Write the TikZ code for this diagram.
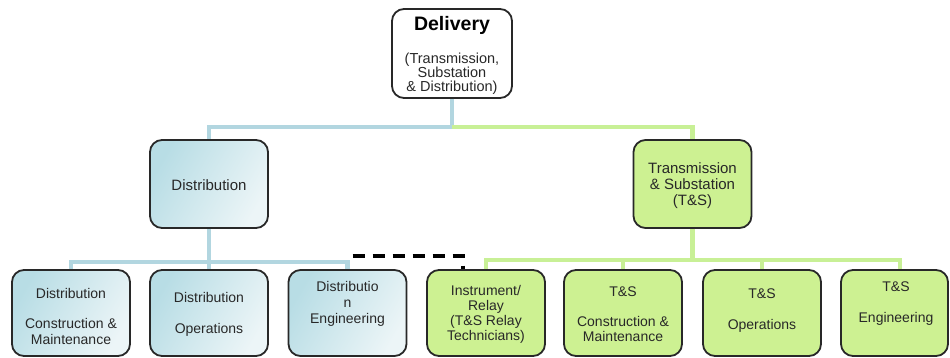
\documentclass[tikz,border=0pt]{standalone}
\usepackage{fontspec}
\setmainfont{Liberation Sans}
\definecolor{boxline}{RGB}{40,40,40}
\definecolor{bluetop}{RGB}{184,221,229}
\definecolor{bluebot}{RGB}{236,245,247}
\definecolor{greenfill}{RGB}{205,241,146}
\definecolor{blueline}{RGB}{178,214,224}
\definecolor{greenline}{RGB}{200,240,150}
\definecolor{txtcol}{RGB}{40,40,40}
\begin{document}
\begin{tikzpicture}[x=1pt,y=-1pt,
  box/.style={draw=boxline, line width=1.8pt, rounded corners=12pt, inner sep=0pt},
  bbox/.style={box, top color=bluetop, bottom color=bluebot, shading angle=60},
  gbox/.style={box, fill=greenfill},
  wbox/.style={box, fill=white},
  small/.style={minimum width=118pt, minimum height=86pt},
  mid/.style={minimum width=118pt, minimum height=88pt},
  txt/.style={align=center, font=\fontsize{14}{16}\selectfont, text=txtcol, inner sep=0pt},
  midtxt/.style={txt, font=\fontsize{15}{16}\selectfont},
  bl/.style={draw=blueline, line width=4.5pt},
  gl/.style={draw=greenline, line width=4.5pt},
  dl/.style={draw=black, line width=3.5pt, dash pattern=on 12pt off 8pt},
]
\useasboundingbox (0,0) rectangle (950,358);

\coordinate (topbus) at (0,127);
\coordinate (dbus) at (0,262);
\coordinate (tbus) at (0,260);
\coordinate (dashy) at (0,256);

% top
\node[wbox, minimum width=120pt, minimum height=89pt] (del) at (452,53.5) {};
\node[font=\bfseries\fontsize{19.5}{22}\selectfont, text=black] (delt) at (452,25) {Delivery};
\node[txt, font=\fontsize{14.5}{14}\selectfont] (dels) at (452,74) {(Transmission,\\Substation\\\& Distribution)};

% middle
\node[bbox, mid] (dist) at (209,184) {};
\node[midtxt] (distt) at (209,185) {Distribution};
\node[gbox, mid] (ts) at (692.5,184) {};
\node[midtxt] (tst) at (692.5,186) {Transmission\\\& Substation\\(T\&S)};

% bottom
\node[bbox, small] (b1) at (71,313) {};
\node[txt] (b1t) at (71,316) {Distribution\\[14pt]Construction \&\\Maintenance};
\node[bbox, small] (b2) at (209,313) {};
\node[txt] (b2t) at (209,314.5) {Distribution\\[15pt]Operations};
\node[bbox, small] (b3) at (347.5,313) {};
\node[txt] (b3t) at (347.5,304) {Distributio\\n\\Engineering};
\node[gbox, small] (g1) at (486,313) {};
\node[txt, font=\fontsize{14}{15}\selectfont] (g1t) at (486,314.5) {Instrument/\\Relay\\(T\&S Relay\\Technicians)};
\node[gbox, small] (g2) at (623,313) {};
\node[txt, font=\fontsize{14}{15}\selectfont] (g2t) at (623,314) {T\&S\\[15pt]Construction \&\\Maintenance};
\node[gbox, small] (g3) at (762,313) {};
\node[txt] (g3t) at (762,311) {T\&S\\[15pt]Operations};
\node[gbox, minimum width=107pt, minimum height=86pt] (g4) at (894.5,313) {};
\node[txt] (g4t) at (896,304) {T\&S\\[15pt]Engineering};

% top level connectors
\draw[bl] (del.south) -- (del.south |- topbus) -| (dist.north);
\draw[gl] (del.south |- topbus) -| (ts.north);

% distribution branch
\draw[bl] (dist.south) -- (dist.south |- dbus);
\draw[bl] (b1.north) |- (dist.south |- dbus) -| (b3.north);
\draw[bl] (dist.south |- dbus) -- (b2.north);

% T&S branch
\draw[gl] (ts.south) -- (ts.south |- tbus);
\draw[gl] (g1.north) |- (ts.south |- tbus) -| ([xshift=5.5pt]g4.north);
\draw[gl] (g2.north) -- (g2.north |- tbus);
\draw[gl] (g3.north) -- (g3.north |- tbus);

% dashed link
\coordinate (dstart) at ([xshift=5pt]b3.north |- dashy);
\coordinate (dend) at ([xshift=-23pt]g1.north);
\draw[dl] (dstart) -- (dstart -| dend) -- (dend);
\end{tikzpicture}
\end{document}
